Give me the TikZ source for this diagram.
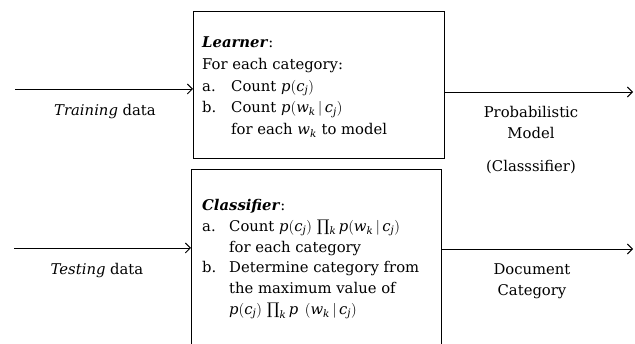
\RequirePackage{fix-cm}
\documentclass[tikz,border=0pt]{standalone}
\usepackage{fontspec}
\setmainfont{DejaVu Serif}
\DeclareSymbolFont{dvletters}{TU}{\rmdefault}{m}{it}
\DeclareMathSymbol{p}{\mathalpha}{dvletters}{`p}
\DeclareMathSymbol{c}{\mathalpha}{dvletters}{`c}
\DeclareMathSymbol{j}{\mathalpha}{dvletters}{`j}
\DeclareMathSymbol{w}{\mathalpha}{dvletters}{`w}
\DeclareMathSymbol{k}{\mathalpha}{dvletters}{`k}
\newcommand{\prodsym}{\mathop{\mbox{\fontsize{16}{16}\selectfont ∏}}\nolimits}
\usetikzlibrary{arrows.meta}
\begin{document}
\begin{tikzpicture}[x=1pt,y=-1pt,
  boxstyle/.style={draw, line width=1.4pt, inner sep=0pt, anchor=north west},
  flow/.style={line width=0.9pt, -{Straight Barb[length=5pt,width=10pt,line width=0.9pt]}},
  txt/.style={inner sep=0pt, font=\fontsize{14.8}{21}\selectfont},
  blockstyle/.style={txt, anchor=north west, align=left},
  lbl/.style={txt, align=center}]
\useasboundingbox (0,0) rectangle (635,344);
% boxes
\node[boxstyle, minimum width=251pt, minimum height=147pt] (learner) at (193,11) {};
\node[boxstyle, minimum width=250pt, minimum height=190pt] (classifier) at (191,169) {};
% learner text
\node[blockstyle, font=\fontsize{14.8}{21.6}\selectfont] (ltext) at (202,37) {%
  \textbf{\textit{Learner}}:\\
  For each category:\\
  \makebox[29pt][l]{a.}Count $p(c_j)$\\
  \makebox[29pt][l]{b.}Count $p(w_k\,|\,c_j)$\\
  \hspace*{29pt}for each $w_k$ to model};
% classifier text
\node[blockstyle, font=\fontsize{14.8}{20.8}\selectfont] (ctext) at (202,199) {%
  \textbf{\textit{Classifier}}:\\
  \makebox[27pt][l]{a.}Count $p(c_j)\,\prodsym_k p(w_k\,|\,c_j)$\\
  \hspace*{27pt}for each category\\
  \makebox[27pt][l]{b.}Determine category from\\
  \hspace*{27pt}the maximum value of\\
  \hspace*{27pt}$p(c_j)\,\prodsym_k p\;\,(w_k\,|\,c_j)$};
% input arrows
\coordinate (tin) at (15,89);
\coordinate (sin) at (14,248);
\draw[flow] (tin) -- (tin -| learner.west);
\draw[flow] (sin) -- (sin -| classifier.west);
\node[lbl] (trainlbl) at (105,112) {\textit{Training} data};
\node[lbl] (testlbl) at (97,271) {\textit{Testing} data};
% output arrows
\coordinate (pout) at (633,92);
\coordinate (dout) at (633,249);
\draw[flow] (learner.east |- pout) -- (pout);
\draw[flow] (classifier.east |- dout) -- (dout);
\node[lbl] (problbl) at (531,122) {Probabilistic\\Model};
\node[lbl] (clslbl) at (531,167) {(Classsifier)};
\node[lbl] (doclbl) at (532,281.5) {Document\\Category};
\end{tikzpicture}
\end{document}
